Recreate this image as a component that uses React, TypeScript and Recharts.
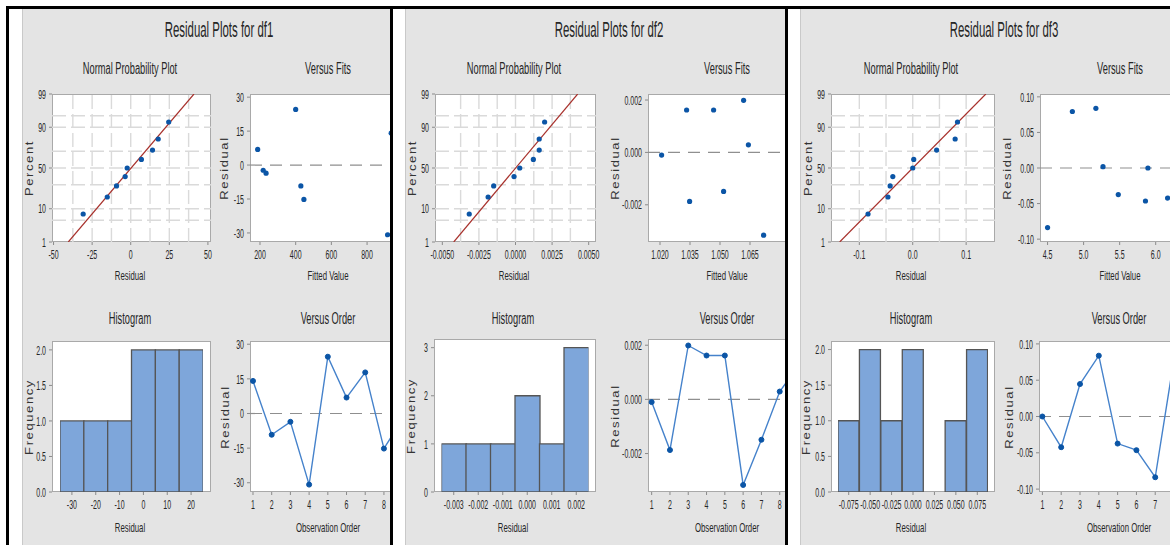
import React from "react";
import {
  Bar,
  BarChart,
  ComposedChart,
  Line,
  LineChart,
  ReferenceLine,
  Scatter,
  ScatterChart,
  XAxis,
  YAxis,
} from "recharts";

// ---- data ----
const observations = [1, 2, 3, 4, 5, 6, 7, 8, 9];
// median-rank plotting positions (%) for n = 9
const nppPercent = [7.4, 18.1, 28.7, 39.4, 50, 60.6, 71.3, 81.9, 92.6];
const nppTickPct = [1, 10, 50, 90, 99];
const nppGridPct = [5, 10, 30, 50, 70, 90, 95];

const df1Residuals = [14.1, -9.2, -3.6, -30.8, 24.6, 6.9, 17.8, -15.2, -2.3];
const df1Fits = [935, 429, 234, 915, 400, 187, 980, 446, 218];
const df1Bins = ["-30", "-20", "-10", "0", "10", "20"];
const df1Counts = [1, 1, 1, 2, 2, 2];
const df1NppTicks = [-50, -25, 0, 25, 50];
const df1NppGrid = [-37.5, -25, -12.5, 0, 12.5, 25, 37.5];
const df1FitTicks = [200, 400, 600, 800];
const df1ResTicks = [-30, -15, 0, 15, 30];
const df1FreqTicks = [0, 0.5, 1, 1.5, 2];

const df2Residuals = [-0.0001, -0.00187, 0.00199, 0.00162, 0.00162, -0.00316, -0.00149, 0.00029, 0.00122];
const df2Fits = [1.0208, 1.0348, 1.0618, 1.0333, 1.0468, 1.0718, 1.0518, 1.0642, 1.089];
const df2Bins = ["-0.003", "-0.002", "-0.001", "0.000", "0.001", "0.002"];
const df2Counts = [1, 1, 1, 2, 1, 3];
const df2NppTicks = [-0.005, -0.0025, 0, 0.0025, 0.005];
const df2NppGrid = [-0.00375, -0.0025, -0.00125, 0, 0.00125, 0.0025, 0.00375];
const df2FitTicks = [1.02, 1.035, 1.05, 1.065];
const df2ResTicks = [-0.002, 0, 0.002];
const df2FreqTicks = [0, 1, 2, 3];

const df3Residuals = [0.0, -0.0423, 0.0447, 0.0838, -0.0373, -0.0464, -0.0837, 0.0794, 0.0019];
const df3Fits = [5.892, 6.165, 6.35, 5.17, 5.481, 5.858, 4.5, 4.844, 5.269];
const df3Bins = ["-0.075", "-0.050", "-0.025", "0.000", "0.025", "0.050", "0.075"];
const df3Counts = [1, 2, 1, 2, 0, 1, 2];
const df3NppTicks = [-0.1, 0, 0.1];
const df3NppGrid = [-0.1, -0.05, 0, 0.05, 0.1];
const df3FitTicks = [4.5, 5.0, 5.5, 6.0];
const df3ResTicks = [-0.1, -0.05, 0, 0.05, 0.1];
const df3FreqTicks = [0, 0.5, 1, 1.5, 2];

// ---- look ----
const FONT = '"Liberation Sans", Arial, sans-serif';
const INK = "#262626";
const BLUE = "#0b55a6";
const LINE_BLUE = "#4582cb";
const BAR_FILL = "#7ea6da";
const PANEL_BG = "#e4e4e4";
const SX = 0.54;
const YW = 50;
const XH = 30;
const MT = 10;
const MR = 20;

// inverse standard normal (Acklam)
function zOf(pct: number) {
  const p = pct / 100;
  const a = [-39.69683028665376, 220.9460984245205, -275.9285104469687, 138.357751867269, -30.66479806614716, 2.506628277459239];
  const b = [-54.47609879822406, 161.5858368580409, -155.6989798598866, 66.80131188771972, -13.28068155288572];
  const c = [-0.007784894002430293, -0.3223964580411365, -2.400758277161838, -2.549732539343734, 4.374664141464968, 2.938163982698783];
  const d = [0.007784695709041462, 0.3224671290700398, 2.445134137142996, 3.754408661907416];
  const tail = (q: number) =>
    (((((c[0] * q + c[1]) * q + c[2]) * q + c[3]) * q + c[4]) * q + c[5]) /
    ((((d[0] * q + d[1]) * q + d[2]) * q + d[3]) * q + 1);
  if (p < 0.02425) return tail(Math.sqrt(-2 * Math.log(p)));
  if (p > 1 - 0.02425) return -tail(Math.sqrt(-2 * Math.log(1 - p)));
  const q = p - 0.5;
  const r = q * q;
  return (
    ((((((a[0] * r + a[1]) * r + a[2]) * r + a[3]) * r + a[4]) * r + a[5]) * q) /
    (((((b[0] * r + b[1]) * r + b[2]) * r + b[3]) * r + b[4]) * r + 1)
  );
}

const Z_LO = zOf(1);
const Z_HI = zOf(99);
const nppTickZ = nppTickPct.map(zOf);

type Rect = { x: number; y: number; w: number; h: number };

type PanelDef = {
  title: string;
  left: number;
  width: number;
  titleX: number;
  residuals: number[];
  fits: number[];
  bins: string[];
  counts: number[];
  nppDomain: [number, number];
  nppTicks: number[];
  nppGrid: number[];
  nppDigits: number;
  fitDomain: [number, number];
  fitTicks: number[];
  fitDigits: number;
  resDomain: [number, number];
  resTicks: number[];
  resDigits: number;
  orderDomain: [number, number];
  freqMax: number;
  freqTicks: number[];
  freqDigits: number;
  histPad: number;
  npp: Rect;
  fitsRect: Rect;
  hist: Rect;
  order: Rect;
  ylab: { npp: number; fits: number; hist: number; order: number };
};

const panels: PanelDef[] = [
  {
    title: "Residual Plots for df1",
    left: 22,
    width: 368,
    titleX: 196,
    residuals: df1Residuals,
    fits: df1Fits,
    bins: df1Bins,
    counts: df1Counts,
    nppDomain: [-51, 52],
    nppTicks: df1NppTicks,
    nppGrid: df1NppGrid,
    nppDigits: 0,
    fitDomain: [144, 1035],
    fitTicks: df1FitTicks,
    fitDigits: 0,
    resDomain: [-34, 31.4],
    resTicks: df1ResTicks,
    resDigits: 0,
    orderDomain: [0.84, 9.34],
    freqMax: 2.125,
    freqTicks: df1FreqTicks,
    freqDigits: 1,
    histPad: 8,
    npp: { x: 29, y: 94, w: 159, h: 148 },
    fitsRect: { x: 227, y: 94, w: 159, h: 148 },
    hist: { x: 29, y: 341, w: 159, h: 151 },
    order: { x: 227, y: 341, w: 159, h: 151 },
    ylab: { npp: 23, fits: 26, hist: 23, order: 25 },
  },
  {
    title: "Residual Plots for df2",
    left: 405,
    width: 380,
    titleX: 203,
    residuals: df2Residuals,
    fits: df2Fits,
    bins: df2Bins,
    counts: df2Counts,
    nppDomain: [-0.0055, 0.0055],
    nppTicks: df2NppTicks,
    nppGrid: df2NppGrid,
    nppDigits: 4,
    fitDomain: [1.014, 1.0945],
    fitTicks: df2FitTicks,
    fitDigits: 3,
    resDomain: [-0.00342, 0.00223],
    resTicks: df2ResTicks,
    resDigits: 3,
    orderDomain: [0.8, 9.6],
    freqMax: 3.18,
    freqTicks: df2FreqTicks,
    freqDigits: 0,
    histPad: 7.5,
    npp: { x: 29, y: 94, w: 161, h: 148 },
    fitsRect: { x: 242, y: 94, w: 161, h: 148 },
    hist: { x: 28, y: 339, w: 162, h: 153 },
    order: { x: 242, y: 339, w: 161, h: 153 },
    ylab: { npp: 23, fits: 33, hist: 23, order: 33 },
  },
  {
    title: "Residual Plots for df3",
    left: 800,
    width: 370,
    titleX: 203,
    residuals: df3Residuals,
    fits: df3Fits,
    bins: df3Bins,
    counts: df3Counts,
    nppDomain: [-0.153, 0.154],
    nppTicks: df3NppTicks,
    nppGrid: df3NppGrid,
    nppDigits: 1,
    fitDomain: [4.395, 6.67],
    fitTicks: df3FitTicks,
    fitDigits: 1,
    resDomain: [-0.104, 0.104],
    resTicks: df3ResTicks,
    resDigits: 2,
    orderDomain: [0.82, 9.54],
    freqMax: 2.12,
    freqTicks: df3FreqTicks,
    freqDigits: 1,
    histPad: 7,
    npp: { x: 30, y: 94, w: 164, h: 148 },
    fitsRect: { x: 239, y: 94, w: 164, h: 148 },
    hist: { x: 30, y: 341, w: 164, h: 151 },
    order: { x: 238, y: 341, w: 164, h: 151 },
    ylab: { npp: 23, fits: 33, hist: 25, order: 30 },
  },
];

// ---- small pieces ----
function Txt({ x, y, text, size, sx = SX }: { x: number; y: number; text: string; size: number; sx?: number }) {
  return (
    <div
      style={{
        position: "absolute",
        left: x,
        top: y,
        transform: `translate(-50%, -50%) scaleX(${sx})`,
        whiteSpace: "nowrap",
        fontFamily: FONT,
        fontSize: size,
        color: INK,
        lineHeight: 1,
      }}
    >
      {text}
    </div>
  );
}

function VTxt({ x, y, text }: { x: number; y: number; text: string }) {
  return (
    <div
      style={{
        position: "absolute",
        left: x,
        top: y,
        transform: "translate(-50%, -50%) rotate(-90deg) scaleY(0.9)",
        whiteSpace: "nowrap",
        fontFamily: FONT,
        fontSize: 13,
        letterSpacing: 1.6,
        color: "#333",
        lineHeight: 1,
      }}
    >
      {text}
    </div>
  );
}

function tick(fmt: (v: any) => string, side: "x" | "y") {
  return (props: any) => {
    const { x, y, payload } = props;
    return (
      <g transform={`translate(${x},${y})`}>
        <text
          transform={`scale(${SX},1)`}
          textAnchor={side === "x" ? "middle" : "end"}
          dy={side === "x" ? "0.78em" : "0.36em"}
          fontFamily={FONT}
          fontSize={13}
          fill={INK}
        >
          {fmt(payload.value)}
        </text>
      </g>
    );
  };
}

const fixed = (digits: number) => (v: number) => Number(v).toFixed(digits);

const axisCommon = {
  axisLine: false,
  tickLine: { stroke: "#8a8a8a" },
  tickSize: 3,
  interval: 0 as const,
  allowDataOverflow: true,
};

function PlotFrame({ r }: { r: Rect }) {
  return (
    <div
      style={{
        position: "absolute",
        left: r.x,
        top: r.y,
        width: r.w,
        height: r.h,
        boxSizing: "border-box",
        background: "#fff",
        border: "1px solid #a9a9a9",
      }}
    />
  );
}

function place(r: Rect) {
  return {
    box: { position: "absolute" as const, left: r.x - YW, top: r.y - MT },
    width: r.w + YW + MR,
    height: r.h + MT + XH,
    margin: { top: MT, right: MR, bottom: 0, left: 0 },
  };
}

// drop ticks that fall wholly past the cropped right edge of the panel
function visibleTicks(ticks: number[], domain: [number, number], r: Rect, limit: number) {
  return ticks.filter((t) => r.x + ((t - domain[0]) / (domain[1] - domain[0])) * r.w < limit + 1);
}

const dotShape = (p: any) => <circle cx={p.cx} cy={p.cy} r={2.6} fill={BLUE} />;

function NormalPlot({ p }: { p: PanelDef }) {
  const g = place(p.npp);
  const sorted = [...p.residuals].sort((a, b) => a - b);
  const pts = sorted.map((v, i) => ({ x: v, y: zOf(nppPercent[i]) }));
  const n = p.residuals.length;
  const mean = p.residuals.reduce((s, v) => s + v, 0) / n;
  const sd = Math.sqrt(p.residuals.reduce((s, v) => s + (v - mean) ** 2, 0) / (n - 1));
  const fitLine = [
    { x: mean + sd * Z_LO, y: Z_LO },
    { x: mean + sd * Z_HI, y: Z_HI },
  ];
  const yFmt = (v: number) => {
    let best = 0;
    nppTickZ.forEach((z, i) => {
      if (Math.abs(z - v) < Math.abs(nppTickZ[best] - v)) best = i;
    });
    return String(nppTickPct[best]);
  };
  return (
    <div style={g.box}>
      <ComposedChart width={g.width} height={g.height} margin={g.margin}>
        <XAxis
          {...axisCommon}
          type="number"
          dataKey="x"
          domain={p.nppDomain}
          ticks={p.nppTicks}
          height={XH}
          tickMargin={4}
          tick={tick(fixed(p.nppDigits), "x")}
        />
        <YAxis
          {...axisCommon}
          type="number"
          dataKey="y"
          domain={[Z_LO, Z_HI]}
          ticks={nppTickZ}
          width={YW}
          tickMargin={3}
          tick={tick(yFmt, "y")}
        />
        {p.nppGrid.map((v) => (
          <ReferenceLine key={"gx" + v} x={v} stroke="#dadada" strokeWidth={1.4} strokeDasharray="14 5" />
        ))}
        {nppGridPct.map((v) => (
          <ReferenceLine key={"gy" + v} y={zOf(v)} stroke="#dadada" strokeWidth={1.4} strokeDasharray="14 5" />
        ))}
        <Line
          data={fitLine}
          dataKey="y"
          stroke="#a8312c"
          strokeWidth={1.2}
          dot={false}
          activeDot={false}
          isAnimationActive={false}
        />
        <Scatter data={pts} dataKey="y" shape={dotShape} isAnimationActive={false} />
      </ComposedChart>
    </div>
  );
}

function FitsPlot({ p }: { p: PanelDef }) {
  const g = place(p.fitsRect);
  const data = p.residuals.map((r, i) => ({ fit: p.fits[i], res: r }));
  return (
    <div style={g.box}>
      <ScatterChart width={g.width} height={g.height} margin={g.margin}>
        <XAxis
          {...axisCommon}
          type="number"
          dataKey="fit"
          domain={p.fitDomain}
          ticks={visibleTicks(p.fitTicks, p.fitDomain, p.fitsRect, p.width)}
          height={XH}
          tickMargin={4}
          tick={tick(fixed(p.fitDigits), "x")}
        />
        <YAxis
          {...axisCommon}
          type="number"
          dataKey="res"
          domain={p.resDomain}
          ticks={p.resTicks}
          width={YW}
          tickMargin={3}
          tick={tick(fixed(p.resDigits), "y")}
        />
        <ReferenceLine y={0} stroke="#8f8f8f" strokeWidth={1.2} strokeDasharray="12 8" />
        <Scatter data={data} shape={dotShape} isAnimationActive={false} />
      </ScatterChart>
    </div>
  );
}

function HistPlot({ p }: { p: PanelDef }) {
  const g = place(p.hist);
  const data = p.bins.map((b, i) => ({ bin: b, count: p.counts[i] }));
  return (
    <div style={g.box}>
      <BarChart width={g.width} height={g.height} margin={g.margin} data={data} barCategoryGap={0} barGap={0}>
        <XAxis
          {...axisCommon}
          dataKey="bin"
          height={XH}
          tickMargin={4}
          padding={{ left: p.histPad, right: p.histPad }}
          tick={tick((v) => String(v), "x")}
        />
        <YAxis
          {...axisCommon}
          type="number"
          domain={[0, p.freqMax]}
          ticks={p.freqTicks}
          width={YW}
          tickMargin={3}
          tick={tick(fixed(p.freqDigits), "y")}
        />
        <Bar dataKey="count" fill={BAR_FILL} stroke="#555" strokeWidth={1.3} isAnimationActive={false} />
      </BarChart>
    </div>
  );
}

function OrderPlot({ p }: { p: PanelDef }) {
  const g = place(p.order);
  const data = observations.map((o, i) => ({ obs: o, res: p.residuals[i] }));
  return (
    <div style={g.box}>
      <LineChart width={g.width} height={g.height} margin={g.margin} data={data}>
        <XAxis
          {...axisCommon}
          type="number"
          dataKey="obs"
          domain={p.orderDomain}
          ticks={visibleTicks(observations, p.orderDomain, p.order, p.width)}
          height={XH}
          tickMargin={4}
          tick={tick((v) => String(v), "x")}
        />
        <YAxis
          {...axisCommon}
          type="number"
          domain={p.resDomain}
          ticks={p.resTicks}
          width={YW}
          tickMargin={3}
          tick={tick(fixed(p.resDigits), "y")}
        />
        <ReferenceLine y={0} stroke="#8f8f8f" strokeWidth={1.2} strokeDasharray="12 8" />
        <Line
          dataKey="res"
          stroke={LINE_BLUE}
          strokeWidth={1.4}
          dot={{ r: 2.5, fill: BLUE, stroke: BLUE, strokeWidth: 1 }}
          activeDot={false}
          isAnimationActive={false}
        />
      </LineChart>
    </div>
  );
}

function Panel({ p }: { p: PanelDef }) {
  const mid = (r: Rect) => r.x + r.w / 2 - 2;
  const vmid = (r: Rect) => r.y + r.h / 2;
  return (
    <div
      style={{
        position: "absolute",
        left: p.left,
        top: 9,
        width: p.width,
        height: 536,
        overflow: "hidden",
        background: PANEL_BG,
        borderLeft: "1px solid #c9c9c9",
        boxSizing: "border-box",
      }}
    >
      {/* inner coordinates are page y, so shift up by the panel top */}
      <div style={{ position: "absolute", left: 0, top: -9, width: 500, height: 545 }}>
        <Txt x={p.titleX} y={30} text={p.title} size={22} sx={0.52} />
        <Txt x={mid(p.npp)} y={69} text="Normal Probability Plot" size={16} sx={0.58} />
        <Txt x={mid(p.fitsRect)} y={69} text="Versus Fits" size={16} sx={0.58} />
        <Txt x={mid(p.hist)} y={319} text="Histogram" size={16} sx={0.58} />
        <Txt x={mid(p.order)} y={319} text="Versus Order" size={16} sx={0.58} />

        <PlotFrame r={p.npp} />
        <PlotFrame r={p.fitsRect} />
        <PlotFrame r={p.hist} />
        <PlotFrame r={p.order} />

        <NormalPlot p={p} />
        <FitsPlot p={p} />
        <HistPlot p={p} />
        <OrderPlot p={p} />

        <VTxt x={p.npp.x - p.ylab.npp} y={vmid(p.npp)} text="Percent" />
        <VTxt x={p.fitsRect.x - p.ylab.fits} y={vmid(p.fitsRect)} text="Residual" />
        <VTxt x={p.hist.x - p.ylab.hist} y={vmid(p.hist)} text="Frequency" />
        <VTxt x={p.order.x - p.ylab.order} y={vmid(p.order)} text="Residual" />

        <Txt x={mid(p.npp)} y={275} text="Residual" size={13} sx={0.6} />
        <Txt x={mid(p.fitsRect)} y={275} text="Fitted Value" size={13} sx={0.6} />
        <Txt x={mid(p.hist)} y={527} text="Residual" size={13} sx={0.6} />
        <Txt x={mid(p.order)} y={527} text="Observation Order" size={13} sx={0.6} />
      </div>
    </div>
  );
}

export default function App() {
  return (
    <div
      style={{
        position: "absolute",
        left: 0,
        top: 0,
        width: 1170,
        height: 545,
        background: "#fff",
        overflow: "hidden",
      }}
    >
      {panels.map((p) => (
        <Panel key={p.title} p={p} />
      ))}
      <div style={{ position: "absolute", left: 6, top: 6, width: 1164, height: 2.7, background: "#000" }} />
      <div style={{ position: "absolute", left: 6, top: 6, width: 2.6, height: 539, background: "#000" }} />
      <div style={{ position: "absolute", left: 390, top: 6, width: 2.7, height: 539, background: "#000" }} />
      <div style={{ position: "absolute", left: 785, top: 6, width: 2.5, height: 539, background: "#000" }} />
    </div>
  );
}
